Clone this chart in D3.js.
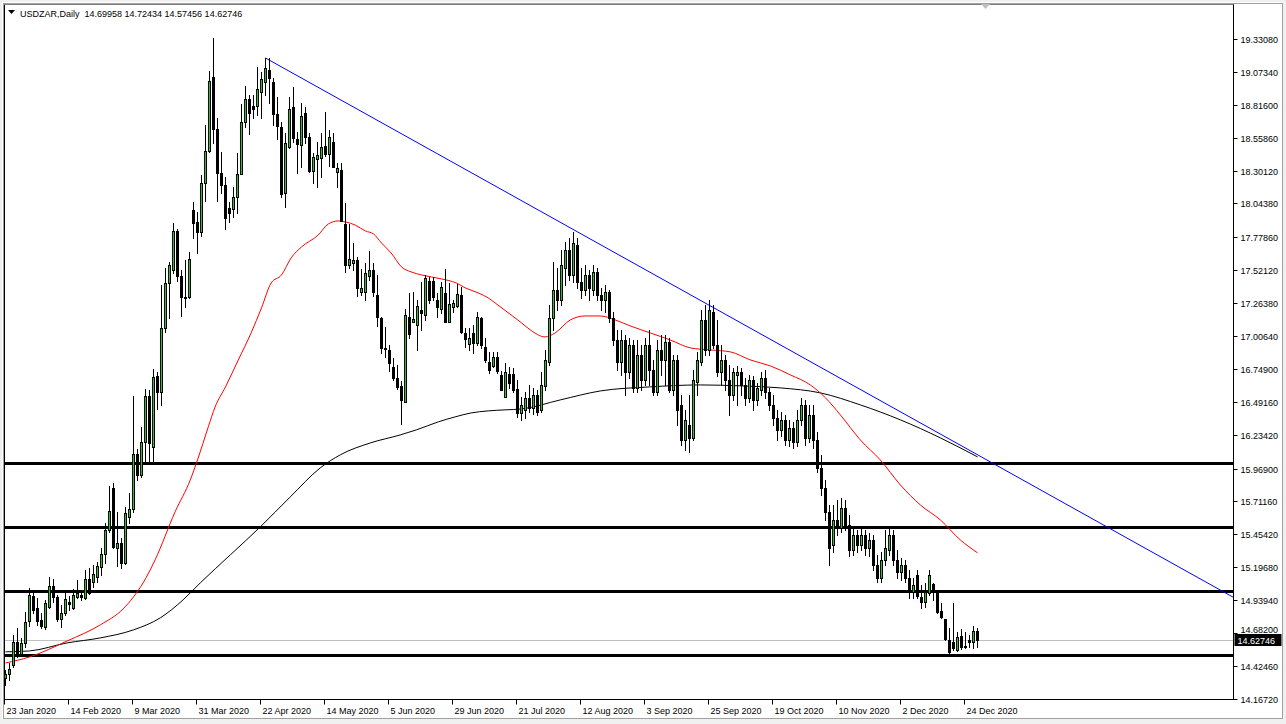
<!DOCTYPE html>
<html><head><meta charset="utf-8">
<script src="https://cdn.jsdelivr.net/npm/d3@7"></script>
<style>
html,body{margin:0;padding:0;background:#fff;}
svg{display:block;}
text{font-family:"Liberation Sans",Arial,sans-serif;font-size:9px;fill:#000;}
</style></head><body>
<svg id="c" width="1286" height="724"></svg>
<script>
const symbol = "USDZAR,Daily";
const lastQuote = ["14.69958","14.72434","14.57456","14.62746"];
const dateLabels = ["23 Jan 2020","14 Feb 2020","9 Mar 2020","31 Mar 2020","22 Apr 2020","14 May 2020","5 Jun 2020","29 Jun 2020","21 Jul 2020","12 Aug 2020","3 Sep 2020","25 Sep 2020","19 Oct 2020","10 Nov 2020","2 Dec 2020","24 Dec 2020"];
const dateLabelIdx = [0,16,32,48,64,80,96,112,128,144,160,176,192,208,224,240];
const priceTicks = ["19.33080","19.07340","18.81600","18.55860","18.30120","18.04380","17.77860","17.52120","17.26380","17.00640","16.74900","16.49160","16.23420","15.96900","15.71160","15.45420","15.19680","14.93940","14.68200","14.42460","14.16720"];
const levels = [16.013, 15.515, 15.014, 14.513];
const currentPrice = 14.62746;
const trendIdx = [65, 307];
const trendVal = [19.182, 14.96];

const opens = [14.331,14.362,14.432,14.612,14.518,14.604,14.777,14.972,14.878,14.784,14.730,14.886,15.051,14.964,14.792,14.839,
14.925,14.878,14.964,14.980,14.957,15.105,15.082,15.121,15.199,15.301,15.489,15.817,15.348,15.387,15.230,15.590,
15.653,16.083,15.919,16.177,16.537,16.138,16.694,16.569,17.069,17.422,17.523,17.828,17.476,17.312,17.312,17.993,
17.899,17.821,18.204,18.454,19.033,18.627,18.282,18.188,18.008,18.001,18.094,18.274,18.681,18.861,18.807,18.807,
18.916,18.994,19.088,18.994,18.744,18.642,18.126,18.486,18.799,18.548,18.501,18.752,18.564,18.298,18.392,18.400,
18.494,18.431,18.525,18.290,18.306,17.883,17.562,17.578,17.601,17.351,17.351,17.476,17.523,17.328,17.148,16.913,
16.897,16.764,16.678,16.616,16.490,17.155,17.116,17.093,17.210,17.171,17.437,17.437,17.289,17.218,17.343,17.116,
17.234,17.241,17.328,17.030,16.944,17.030,16.952,17.148,16.921,16.803,16.772,16.842,16.702,16.529,16.709,16.709,
16.592,16.404,16.428,16.522,16.443,16.545,16.428,16.616,16.803,17.148,17.367,17.288,17.539,17.680,17.484,17.719,
17.429,17.367,17.484,17.367,17.508,17.328,17.288,17.351,17.148,16.975,16.803,16.975,16.725,16.936,16.600,16.858,
16.662,16.936,16.741,16.569,16.897,16.819,16.960,16.584,16.819,16.467,16.193,16.310,16.209,16.647,16.803,17.132,
16.897,17.195,16.936,16.725,16.819,16.662,16.545,16.702,16.725,16.623,16.522,16.662,16.506,16.584,16.678,16.569,
16.467,16.365,16.271,16.349,16.193,16.287,16.177,16.349,16.467,16.209,16.389,16.193,15.974,15.817,15.630,15.371,
15.567,15.504,15.661,15.528,15.332,15.450,15.371,15.450,15.348,15.410,15.215,15.113,15.254,15.332,15.450,15.254,
15.160,15.215,15.113,15.004,15.137,14.964,14.925,14.996,15.066,15.004,14.855,14.792,14.628,14.612,14.550,14.659,
14.581,14.628,14.612,14.69958];
const highs = [14.393,14.448,14.667,14.722,14.644,14.847,15.035,14.996,14.957,14.839,14.941,15.121,15.105,14.980,14.902,14.996,
14.972,15.027,15.097,15.019,15.176,15.191,15.215,15.238,15.348,15.543,15.833,15.857,15.629,15.426,15.669,15.778,
16.537,16.123,16.295,16.592,16.580,16.749,16.725,17.406,17.539,17.586,17.891,17.844,17.523,17.601,17.664,18.055,
17.977,18.267,18.658,19.080,19.339,18.713,18.447,18.251,18.055,18.173,18.439,18.822,18.963,18.893,18.893,19.112,
19.073,19.182,19.182,19.026,18.877,18.681,18.595,18.877,18.955,18.603,18.830,18.799,18.595,18.439,18.525,18.595,
18.760,18.619,18.595,18.361,18.361,18.047,17.883,17.734,17.625,17.531,17.578,17.672,17.578,17.484,17.155,17.077,
16.936,16.835,16.780,16.655,17.218,17.343,17.351,17.289,17.429,17.484,17.468,17.468,17.343,17.429,17.531,17.421,
17.289,17.414,17.390,17.069,17.069,17.093,17.195,17.155,16.991,16.882,16.882,16.882,16.733,16.796,16.764,16.756,
16.662,16.530,16.569,16.623,16.600,16.584,16.725,16.897,17.249,17.586,17.539,17.680,17.742,17.773,17.820,17.773,
17.539,17.562,17.523,17.562,17.539,17.382,17.406,17.367,17.195,17.054,17.054,17.015,16.991,16.975,16.975,16.936,
16.991,17.054,16.819,16.975,17.015,17.015,16.991,16.858,16.858,16.545,16.428,16.545,16.741,16.882,17.210,17.249,
17.288,17.249,17.132,16.936,16.858,16.780,16.756,16.772,16.756,16.678,16.702,16.694,16.639,16.725,16.741,16.600,
16.545,16.428,16.412,16.389,16.349,16.334,16.428,16.522,16.506,16.467,16.467,16.255,16.076,15.880,15.684,15.684,
15.723,15.739,15.723,15.606,15.504,15.489,15.504,15.489,15.465,15.450,15.293,15.317,15.489,15.504,15.489,15.332,
15.270,15.254,15.176,15.113,15.176,15.058,15.074,15.176,15.074,15.004,14.918,14.792,14.722,14.918,14.691,14.714,
14.691,14.667,14.738,14.72434];
const lows = [14.276,14.315,14.417,14.495,14.511,14.573,14.738,14.839,14.745,14.722,14.714,14.878,14.925,14.777,14.730,14.824,
14.863,14.871,14.957,14.941,14.949,14.988,15.043,15.082,15.137,15.230,15.473,15.348,15.207,15.191,15.223,15.543,
15.630,15.880,15.903,16.013,16.013,16.013,16.436,16.467,17.038,17.148,17.500,17.437,17.163,17.234,17.304,17.774,
17.656,17.789,18.063,18.447,18.517,18.063,18.126,17.844,17.899,17.938,17.969,18.274,18.642,18.587,18.713,18.736,
18.713,18.893,18.830,18.658,18.548,18.094,18.016,18.478,18.525,18.282,18.329,18.517,18.290,18.204,18.173,18.251,
18.415,18.337,18.329,18.173,17.907,17.508,17.539,17.523,17.320,17.328,17.289,17.445,17.320,17.085,16.874,16.842,
16.733,16.662,16.592,16.318,16.490,16.991,17.116,16.897,17.054,17.132,17.265,17.289,17.155,17.187,17.116,17.116,
17.195,17.234,17.030,16.921,16.897,16.874,16.936,16.913,16.803,16.717,16.764,16.717,16.584,16.529,16.600,16.569,
16.373,16.349,16.365,16.412,16.396,16.389,16.412,16.584,16.780,17.054,17.210,17.249,17.406,17.445,17.429,17.382,
17.304,17.328,17.288,17.328,17.288,17.210,17.195,17.116,16.936,16.741,16.702,16.545,16.678,16.569,16.569,16.584,
16.623,16.623,16.545,16.545,16.702,16.623,16.569,16.545,16.310,16.154,16.115,16.099,16.193,16.545,16.780,16.858,
16.858,16.913,16.694,16.623,16.584,16.389,16.506,16.467,16.545,16.467,16.490,16.428,16.467,16.545,16.522,16.428,
16.310,16.193,16.224,16.154,16.146,16.130,16.146,16.310,16.154,16.177,16.130,15.943,15.763,15.567,15.215,15.317,
15.450,15.473,15.489,15.285,15.293,15.317,15.332,15.293,15.285,15.176,15.082,15.082,15.215,15.293,15.215,15.113,
15.097,15.082,14.957,14.957,14.957,14.878,14.886,14.980,14.941,14.839,14.800,14.628,14.518,14.550,14.542,14.558,
14.565,14.573,14.565,14.57456];
const closes = [14.362,14.401,14.612,14.518,14.604,14.769,14.980,14.863,14.777,14.738,14.918,15.051,14.964,14.792,14.839,14.949,
14.910,14.980,14.996,14.964,15.105,14.996,15.144,15.207,15.301,15.489,15.637,15.356,15.387,15.230,15.622,15.653,
16.083,15.919,16.177,16.537,16.169,16.686,16.569,17.069,17.422,17.562,17.828,17.476,17.312,17.304,17.609,17.891,
17.821,18.204,18.454,19.002,18.627,18.282,18.188,17.930,17.969,18.094,18.274,18.681,18.861,18.752,18.783,18.940,
19.018,19.104,19.026,18.744,18.650,18.118,18.517,18.783,18.556,18.509,18.728,18.564,18.298,18.407,18.423,18.486,
18.431,18.564,18.329,18.321,17.907,17.562,17.609,17.601,17.382,17.382,17.500,17.523,17.351,17.155,16.913,16.905,
16.796,16.678,16.608,16.506,17.171,17.022,17.140,17.241,17.187,17.461,17.289,17.312,17.234,17.390,17.116,17.257,
17.265,17.335,17.038,16.983,16.991,16.952,17.155,16.936,16.819,16.741,16.842,16.733,16.584,16.725,16.639,16.584,
16.404,16.467,16.522,16.443,16.545,16.412,16.623,16.819,17.148,17.367,17.288,17.562,17.680,17.484,17.734,17.429,
17.367,17.484,17.382,17.508,17.328,17.288,17.351,17.148,16.975,16.803,16.975,16.725,16.936,16.600,16.858,16.662,
16.936,16.741,16.569,16.897,16.819,16.960,16.584,16.819,16.428,16.193,16.349,16.209,16.662,16.819,17.132,16.897,
17.210,16.936,16.725,16.819,16.662,16.545,16.725,16.725,16.623,16.522,16.662,16.506,16.600,16.678,16.569,16.467,
16.365,16.271,16.349,16.193,16.287,16.177,16.349,16.467,16.209,16.389,16.193,15.974,15.817,15.630,15.348,15.567,
15.504,15.661,15.528,15.332,15.450,15.371,15.450,15.348,15.410,15.215,15.113,15.254,15.348,15.450,15.254,15.160,
15.215,15.113,15.004,15.058,14.972,14.925,15.004,15.137,15.019,14.847,14.808,14.636,14.534,14.565,14.651,14.573,
14.573,14.612,14.699,14.62746];

const maRedIdx = [0,6,15.4,23.7,29.4,32,34.4,37.4,42.4,46.2,48,50.7,52.4,55,58.2,61.4,64,66.4,69,71.4,74,78.2,80.7,83.2,85,87.4,90,92,94,96.4,99,101.4,104,109,112.7,115,118.2,120.7,122.4,124.4,126.4,129,131.2,134.9,137.4,141.2,144.9,148.7,152.4,156.2,161.2,166.2,171.2,176.2,181.2,186.2,191.2,196.2,201.2,205,208.7,213.7,218.7,223.7,228.7,233.7,238.7,243];
const maRedVal = [14.447,14.494,14.619,14.745,14.870,14.964,15.074,15.254,15.630,15.880,16.036,16.295,16.451,16.608,16.819,17.030,17.226,17.421,17.484,17.617,17.703,17.797,17.883,17.907,17.899,17.875,17.828,17.805,17.734,17.656,17.547,17.508,17.484,17.453,17.421,17.382,17.343,17.304,17.265,17.218,17.171,17.109,17.054,16.999,17.030,17.132,17.163,17.163,17.132,17.085,17.030,16.975,16.913,16.897,16.882,16.819,16.772,16.702,16.623,16.522,16.389,16.193,16.036,15.841,15.684,15.567,15.410,15.309];
const maBlackIdx = [0,6,15.4,23.7,32,38.7,44.4,48.7,56.2,63.7,71.2,78.7,83.7,91.2,98.7,102.7,108.2,112.4,116.4,120.7,124.9,129,138.7,148.7,161.2,173.7,183.7,193.7,203.7,213.7,223.7,233.7,243];
const maBlackVal = [14.534,14.541,14.604,14.643,14.706,14.800,14.941,15.074,15.293,15.512,15.747,15.974,16.076,16.169,16.232,16.271,16.334,16.373,16.404,16.420,16.428,16.435,16.506,16.576,16.608,16.623,16.616,16.600,16.561,16.467,16.350,16.209,16.060];

const svg = d3.select("#c");
const W = 1286, H = 724;
const plotL = 4, plotT = 4, plotR = 1233.5, plotB = 699.5;

const x = d3.scaleLinear().domain([0, 300]).range([5.5, 1205.5]);
const y = d3.scaleLinear().domain([14.1672, 19.3308]).range([698.7, 39]);

// window background and frame
svg.append("rect").attr("x",0).attr("y",0).attr("width",W).attr("height",H).attr("fill","#f0f0f0");
svg.append("rect").attr("x",2).attr("y",2).attr("width",1281).attr("height",717).attr("fill","#fff");
svg.append("rect").attr("x",3.5).attr("y",3.5).attr("width",1279).attr("height",715).attr("fill","none").attr("stroke","#a0a0a0");

svg.append("defs").append("clipPath").attr("id","plot")
  .append("rect").attr("x",plotL).attr("y",plotT).attr("width",plotR-plotL).attr("height",plotB-plotT);

const g = svg.append("g").attr("clip-path","url(#plot)");

// current price line
const cpy = Math.round(y(currentPrice))+0.5;
g.append("line").attr("x1",plotL).attr("x2",plotR).attr("y1",cpy).attr("y2",cpy)
  .attr("stroke","#c0c0c0").attr("stroke-width",1);

// horizontal levels
levels.forEach(v=>{
  const yy = Math.round(y(v))+0.5;
  g.append("line").attr("x1",plotL).attr("x2",plotR).attr("y1",yy).attr("y2",yy).attr("stroke","#000").attr("stroke-width",3);
});

// moving averages
const line = d3.line().x(d=>x(d[0])).y(d=>y(d[1])).curve(d3.curveMonotoneX);
g.append("path").datum(maBlackIdx.map((v,k)=>[v,maBlackVal[k]])).attr("d",line).attr("fill","none").attr("stroke","#000").attr("stroke-width",1);
g.append("path").datum(maRedIdx.map((v,k)=>[v,maRedVal[k]])).attr("d",line).attr("fill","none").attr("stroke","#ff0000").attr("stroke-width",1);

// trend line
g.append("line").attr("x1",x(trendIdx[0])).attr("y1",y(trendVal[0])).attr("x2",x(trendIdx[1])).attr("y2",y(trendVal[1]))
  .attr("stroke","#0000ff").attr("stroke-width",1);

// candles
const candles = opens.map((o,i)=>({i,o,h:highs[i],l:lows[i],c:closes[i]}));
const cg = g.append("g");
candles.forEach(d=>{
  const cx = x(d.i);
  cg.append("line").attr("x1",cx).attr("x2",cx).attr("y1",Math.round(y(d.h))).attr("y2",Math.round(y(d.l))+1)
    .attr("stroke","#000").attr("stroke-width",1);
  const top = Math.round(y(Math.max(d.o,d.c))), bot = Math.round(y(Math.min(d.o,d.c)));
  const bull = d.c >= d.o;
  cg.append("rect").attr("x",cx-1).attr("width",2).attr("y",top+0.5).attr("height",Math.max(0,bot-top))
    .attr("fill",bull?"#00e000":"#000").attr("stroke","#000").attr("stroke-width",1);
});

// axes lines
svg.append("line").attr("x1",plotR).attr("x2",plotR).attr("y1",plotT).attr("y2",plotB+0.5).attr("stroke","#000");
svg.append("line").attr("x1",plotL).attr("x2",plotR).attr("y1",plotB).attr("y2",plotB).attr("stroke","#000");
svg.append("line").attr("x1",plotL+0.5).attr("x2",plotL+0.5).attr("y1",plotT).attr("y2",plotB).attr("stroke","#000");
svg.append("line").attr("x1",plotL).attr("x2",plotR).attr("y1",plotT+0.5).attr("y2",plotT+0.5).attr("stroke","#808080");

// price axis
const cy = Math.round(y(currentPrice));
const pa = svg.append("g");
priceTicks.forEach(t=>{
  const yy = Math.round(y(+t))+0.5;
  pa.append("line").attr("x1",plotR).attr("x2",plotR+4).attr("y1",yy).attr("y2",yy).attr("stroke","#000");
  // keep the label just above the current price box when they would collide
  let ty = yy+3;
  if (ty > cy-7 && ty < cy+16) ty = cy-7;
  pa.append("text").attr("x",plotR+7).attr("y",ty).text(t);
});

// current price box
pa.append("rect").attr("x",plotR+1).attr("y",cy-6).attr("width",47).attr("height",12).attr("fill","#000");
pa.append("text").attr("x",plotR+4).attr("y",cy+3.5).style("fill","#fff").text(lastQuote[3]);

// date axis
const da = svg.append("g");
dateLabelIdx.forEach((idx,k)=>{
  const xx = Math.round(x(idx))-1.5;
  da.append("line").attr("x1",xx).attr("x2",xx).attr("y1",plotB).attr("y2",plotB+5).attr("stroke","#000");
  da.append("text").attr("x",xx+2).attr("y",714).text(dateLabels[k]);
});

// header
svg.append("path").attr("d","M8,10 L15,10 L11.5,14 Z").attr("fill","#000");
svg.append("text").attr("x",20).attr("y",17).text(symbol + "\u00a0\u00a0" + lastQuote.join(" "));

// chart shift marker
svg.append("path").attr("d","M981,4 L990,4 L985.5,9 Z").attr("fill","#c0c0c0");
</script>
</body></html>
